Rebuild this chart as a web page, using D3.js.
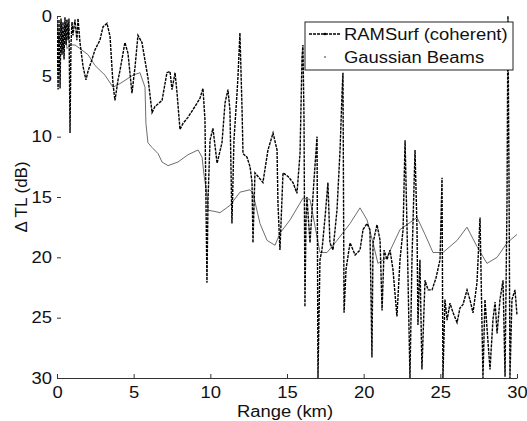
<!DOCTYPE html>
<html>
<head>
<meta charset="utf-8">
<script src="https://cdn.jsdelivr.net/npm/d3@7"></script>
<style>
  body { margin: 0; background: #fff; }
  svg { display: block; }
  text { font-family: "Liberation Sans", Arial, Helvetica, sans-serif; fill: #111; }
</style>
</head>
<body>
<svg id="chart" width="527" height="421"></svg>
<script>
// Range (km) and transmission-loss difference (dB) for the two models
const rangeRam = [
  0.00, 0.07, 0.13, 0.20, 0.26, 0.33, 0.39, 0.46, 0.52, 0.59, 0.65, 0.72, 0.78, 0.85, 0.91, 0.98,
  1.04, 1.17, 1.30, 1.37, 1.50, 1.70, 1.89, 2.02, 2.28, 2.48, 2.80, 3.00, 3.26, 3.46, 3.65, 3.78,
  3.98, 4.11, 4.43, 4.63, 4.89, 5.09, 5.28, 5.54, 5.93, 6.20, 6.39, 6.85, 7.17, 7.37, 7.50, 7.70,
  7.83, 8.02, 8.22, 8.54, 9.00, 9.33, 9.52, 9.65, 9.78, 9.85, 9.98, 10.17, 10.44, 10.76, 10.96, 11.15,
  11.28, 11.41, 11.54, 11.74, 11.80, 11.93, 12.07, 12.13, 12.39, 12.59, 12.72, 12.78, 12.91, 13.11, 13.43, 13.76,
  14.09, 14.35, 14.41, 14.54, 14.74, 15.07, 15.39, 15.65, 15.85, 15.98, 16.04, 16.11, 16.17, 16.24, 16.30, 16.50,
  16.76, 16.96, 17.02, 17.15, 17.28, 17.48, 17.67, 17.80, 18.00, 18.26, 18.46, 18.59, 18.65, 18.72, 18.85, 19.11,
  19.44, 19.76, 19.96, 20.22, 20.41, 20.54, 20.61, 20.87, 21.07, 21.20, 21.33, 21.52, 21.72, 21.91, 22.17, 22.37,
  22.57, 22.70, 22.83, 23.02, 23.15, 23.35, 23.48, 23.54, 23.67, 23.80, 24.00, 24.20, 24.46, 24.72, 24.98, 25.11,
  25.17, 25.30, 25.44, 25.63, 25.83, 26.09, 26.28, 26.48, 26.74, 26.93, 27.13, 27.39, 27.59, 27.78, 27.91, 28.24,
  28.43, 28.57, 28.70, 28.89, 29.09, 29.22, 29.35, 29.41, 29.48, 29.54, 29.67, 29.87, 30.00
];
const tlRam = [
  0.0, 6.1, 0.3, 6.0, 0.2, 3.2, 0.5, 3.6, 0.1, 2.4, 0.3, 2.0, 0.2, 9.7, 2.4, 0.5,
  1.6, 0.3, 2.0, 0.2, 2.2, 4.2, 5.3, 4.6, 3.6, 2.8, 2.0, 0.9, 0.6, 1.7, 5.6, 7.0,
  5.3, 4.5, 2.2, 3.1, 6.4, 4.2, 1.6, 2.2, 5.1, 8.0, 7.5, 7.0, 4.7, 4.6, 6.1, 4.7,
  6.4, 9.4, 8.9, 8.4, 7.5, 6.8, 6.0, 8.6, 22.1, 15.2, 10.3, 9.3, 12.2, 10.5, 7.2, 6.1,
  7.8, 17.2, 10.3, 6.4, 5.1, 1.4, 7.8, 11.4, 11.7, 12.5, 13.8, 18.8, 13.0, 13.3, 13.8, 11.1,
  9.7, 11.1, 15.5, 19.4, 13.0, 13.3, 13.8, 14.7, 11.4, 3.4, 2.4, 8.6, 24.1, 16.9, 15.0, 18.8,
  13.6, 10.0, 30.0, 20.2, 19.4, 16.7, 13.8, 18.8, 19.4, 16.1, 11.1, 6.4, 4.7, 24.6, 21.0, 18.8,
  19.8, 19.4, 17.7, 17.2, 17.7, 28.3, 18.8, 17.3, 18.6, 24.4, 19.4, 20.2, 19.4, 21.0, 24.9, 20.2,
  17.7, 10.3, 17.7, 30.0, 20.2, 11.1, 17.7, 25.6, 20.2, 29.3, 21.9, 22.7, 22.7, 21.7, 20.2, 13.4,
  30.0, 23.5, 25.2, 23.8, 24.6, 25.4, 24.2, 23.9, 22.7, 23.5, 24.6, 22.1, 16.7, 30.0, 23.5, 29.3,
  25.2, 23.7, 26.3, 23.5, 21.9, 29.9, 15.2, 0.0, 13.8, 30.0, 23.5, 22.7, 24.8
];

const rangeGauss = [
  0.00, 0.13, 0.26, 0.39, 0.52, 0.65, 0.85, 1.17, 1.50, 2.02, 2.48, 3.13, 3.65, 4.11, 4.96, 5.41,
  5.74, 5.80, 5.93, 6.20, 6.59, 6.85, 7.24, 7.89, 8.54, 9.20, 9.46, 9.59, 9.78, 9.85, 10.30, 10.63,
  11.28, 11.93, 12.59, 12.78, 13.24, 13.70, 14.22, 14.54, 15.20, 16.04, 16.50, 17.15, 17.61, 18.26, 19.11, 19.76,
  20.22, 20.61, 20.93, 21.52, 22.37, 23.48, 24.00, 24.52, 25.17, 26.09, 26.74, 27.39, 28.04, 28.70, 29.35, 30.00
];
const tlGauss = [
  0.3, 2.4, 0.5, 2.8, 0.7, 2.7, 2.4, 2.4, 2.7, 3.2, 4.1, 4.9, 5.9, 5.6, 4.9, 4.7,
  5.9, 8.9, 10.5, 10.9, 11.4, 12.1, 12.4, 12.1, 11.5, 11.1, 11.7, 13.2, 14.8, 16.1, 16.2, 16.3,
  15.7, 14.6, 14.4, 14.7, 17.2, 18.6, 19.0, 18.0, 16.9, 15.1, 15.2, 19.6, 19.6, 18.6, 17.2, 15.9,
  16.9, 18.8, 20.5, 20.0, 17.7, 16.7, 18.1, 19.6, 19.6, 18.6, 17.5, 19.1, 20.5, 20.0, 18.8, 18.1
];

const xTicks = [0, 5, 10, 15, 20, 25, 30];
const yTicks = [0, 5, 10, 15, 20, 25, 30];
const seriesNames = ["RAMSurf (coherent)", "Gaussian Beams"];

const svg = d3.select("#chart");
const x = d3.scaleLinear().domain([0, 30]).range([57, 517]);
const y = d3.scaleLinear().domain([0, 30]).range([16, 378]);

// Horizontal stretch of the printed lettering
function widen(sel, k) {
  sel.each(function () {
    const w = this.getComputedTextLength();
    this.setAttribute("textLength", w * k);
    this.setAttribute("lengthAdjust", "spacingAndGlyphs");
  });
}

svg.append("clipPath").attr("id", "plotClip")
  .append("rect").attr("x", 57).attr("y", 14).attr("width", 462).attr("height", 366);

const line = d3.line().x(d => x(d[0])).y(d => y(d[1]));
const gaussPts = rangeGauss.map((r, i) => [r, tlGauss[i]]);
const ramPts = rangeRam.map((r, i) => [r, tlRam[i]]);

const plot = svg.append("g").attr("clip-path", "url(#plotClip)");
plot.append("path").datum(gaussPts)
  .attr("d", line).attr("fill", "none")
  .attr("stroke", "#6e6e6e").attr("stroke-width", 1);
plot.append("path").datum(ramPts)
  .attr("d", line).attr("fill", "none")
  .attr("stroke", "#000").attr("stroke-width", 1.4)
  .attr("stroke-dasharray", "3,1");

// Axes
const xAxis = svg.append("g").attr("transform", "translate(0,378)")
  .call(d3.axisBottom(x).tickValues(xTicks).tickSizeInner(-4).tickSizeOuter(0).tickPadding(9));
xAxis.select(".domain").attr("stroke", "#333");
xAxis.selectAll(".tick line").attr("stroke", "#333");
xAxis.selectAll("text").attr("font-size", 16).attr("fill", "#111")
  .style("font-family", '"Liberation Sans", Arial, sans-serif');

const yAxis = svg.append("g").attr("transform", "translate(57,0)")
  .call(d3.axisLeft(y).tickValues(yTicks).tickSizeInner(-4).tickSizeOuter(0).tickPadding(5));
yAxis.select(".domain").remove();
yAxis.selectAll(".tick line").attr("stroke", "#333");
yAxis.selectAll("text").attr("font-size", 16).attr("fill", "#111")
  .style("font-family", '"Liberation Sans", Arial, sans-serif');

widen(xAxis.selectAll("text"), 1.15);
widen(yAxis.selectAll("text"), 1.15);

// Axis titles
const xl = svg.append("text").attr("x", 285).attr("y", 417)
  .attr("text-anchor", "middle").attr("font-size", 16).text("Range (km)");
widen(xl, 1.15);
svg.append("text").attr("transform", "translate(27,197) rotate(-90)")
  .attr("text-anchor", "middle").attr("font-size", 17).text("Δ TL (dB)");

// Legend
const lg = svg.append("g");
lg.append("rect").attr("x", 305).attr("y", 22).attr("width", 208).attr("height", 48)
  .attr("fill", "#fff").attr("stroke", "#222").attr("stroke-width", 1);
lg.append("line").attr("x1", 309).attr("x2", 340).attr("y1", 34).attr("y2", 34)
  .attr("stroke", "#000").attr("stroke-width", 1.4).attr("stroke-dasharray", "3,1");
lg.append("circle").attr("cx", 325).attr("cy", 34).attr("r", 1.3).attr("fill", "#000");
lg.append("circle").attr("cx", 325).attr("cy", 57).attr("r", 0.9).attr("fill", "#6e6e6e");
const lt = lg.selectAll("text.lbl").data(seriesNames).join("text")
  .attr("class", "lbl")
  .attr("x", 344).attr("y", (d, i) => i === 0 ? 40 : 63)
  .attr("font-size", 16).text(d => d);
widen(lt, 1.15);
</script>
</body>
</html>
